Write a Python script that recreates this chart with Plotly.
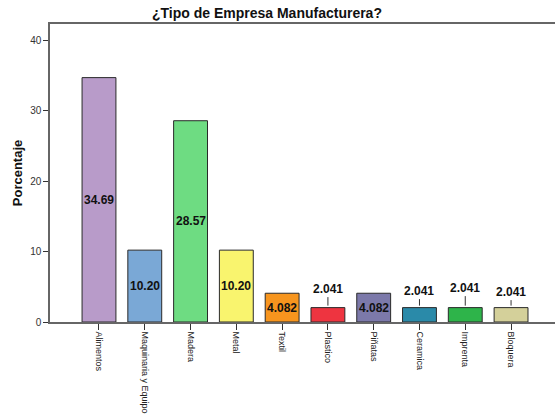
import plotly.graph_objects as go

categories = ["Alimentos", "Maquinaria y Equipo", "Madera", "Metal", "Textil",
              "Plastico", "Piñatas", "Ceramica", "Imprenta", "Bloquera"]
values = [34.69, 10.20, 28.57, 10.20, 4.082, 2.041, 4.082, 2.041, 2.041, 2.041]
colors = ["#B89BC9", "#7AA8D6", "#6EDC82", "#F9F46E", "#F7951E",
          "#EE3440", "#7C79AA", "#2A8AA9", "#2EB44A", "#D4D09A"]
y_ticks = [0, 10, 20, 30, 40]

fig = go.Figure()
fig.add_trace(go.Bar(
    x=categories, y=values,
    marker=dict(color=colors, line=dict(color="#2a2a2a", width=1)),
    width=0.74, hoverinfo="skip", showlegend=False,
))

font_lbl = dict(family="Arial, Liberation Sans, sans-serif", size=12, color="#111")
outside_offsets = [-19, -17, -20, -16]
k = 0
for c, v in zip(categories, values):
    txt = format(v, "#.4g")
    if v > 3:
        fig.add_annotation(x=c, y=v / 2, text="<b>%s</b>" % txt, showarrow=False,
                           font=font_lbl)
    else:
        fig.add_annotation(x=c, y=v, text="<b>%s</b>" % txt, showarrow=True,
                           arrowhead=0, arrowwidth=1, arrowcolor="#333",
                           ax=0, ay=outside_offsets[k % 4], standoff=2,
                           font=font_lbl)
        k += 1

fig.update_layout(
    width=555, height=417,
    margin=dict(l=50, r=0, t=24, b=95),
    paper_bgcolor="white", plot_bgcolor="white",
    title=dict(text="<b>¿Tipo de Empresa Manufacturera?</b>", x=0.481, xanchor="center",
               y=0.968, yanchor="middle",
               font=dict(family="Arial, Liberation Sans, sans-serif", size=14, color="#111")),
    font=dict(family="Arial, Liberation Sans, sans-serif", color="#222"),
    xaxis=dict(range=[-1.07, 9.96], showgrid=False, showline=True, linecolor="#666",
               linewidth=1.5, mirror=True, ticks="outside", ticklen=6, tickcolor="#333",
               tickangle=90, tickfont=dict(size=9, color="#222"), automargin=False),
    yaxis=dict(range=[0, 42.3], tickvals=y_ticks, showgrid=False, showline=True,
               linecolor="#666", linewidth=1.5, ticks="outside", ticklen=5, tickcolor="#333",
               tickfont=dict(size=10, color="#333"), zeroline=False, automargin=False,
               title=dict(text="<b>Porcentaje</b>", standoff=5,
                          font=dict(size=13, color="#111"))),
)

fig.write_html("out.html")
